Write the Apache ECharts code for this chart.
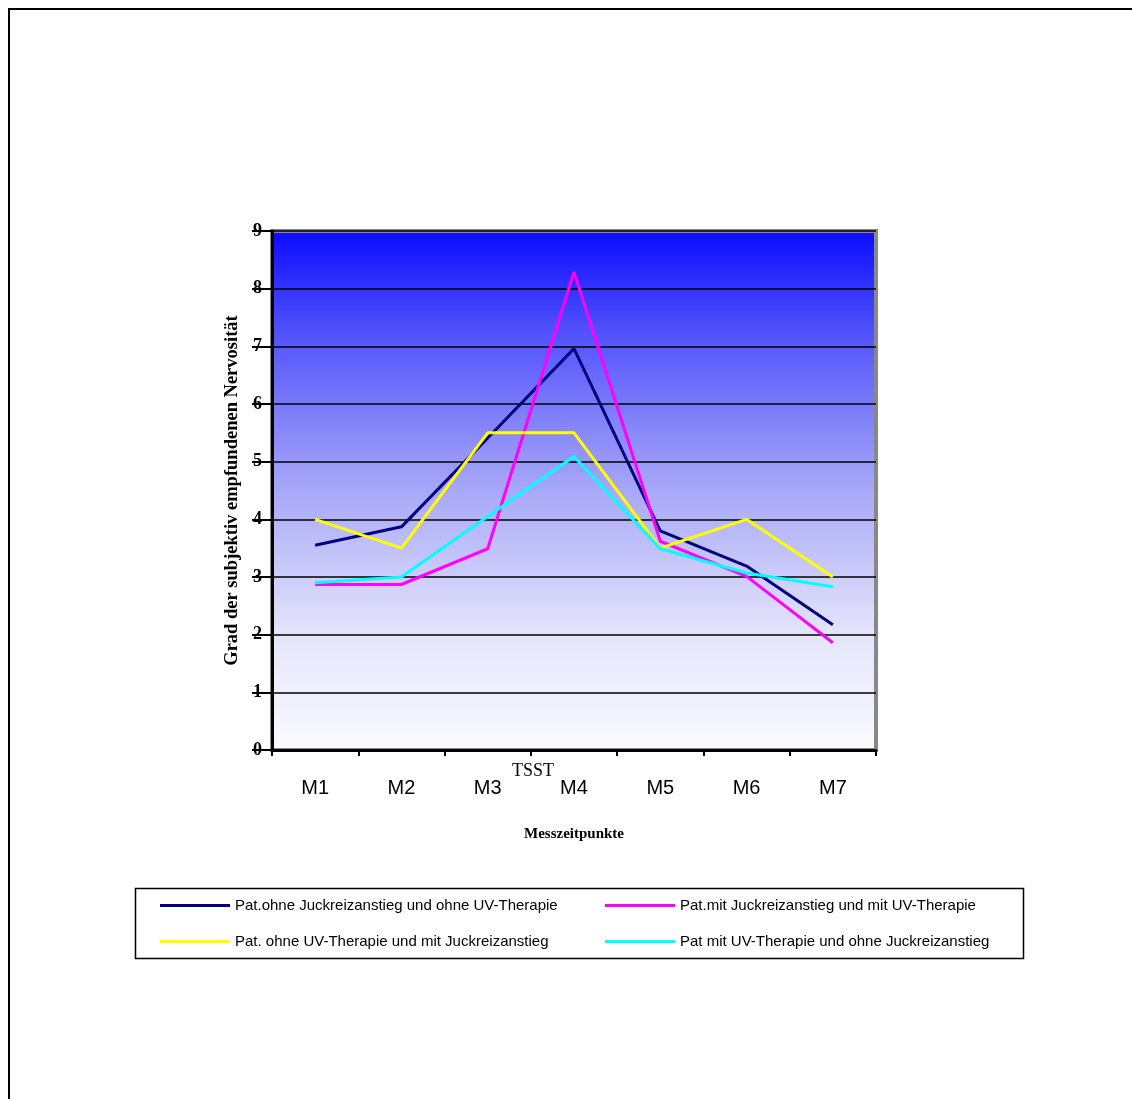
<!DOCTYPE html>
<html>
<head>
<meta charset="utf-8">
<script src="https://cdn.jsdelivr.net/npm/echarts@6/dist/echarts.min.js"></script>
<style>
  html, body { margin: 0; padding: 0; background: #fff; }
  #chart { width: 1132px; height: 1099px; }
</style>
</head>
<body>
<div id="chart"></div>
<script>
// Messzeitpunkte
const categories = ['M1', 'M2', 'M3', 'M4', 'M5', 'M6', 'M7']
const yTicks = [0, 1, 2, 3, 4, 5, 6, 7, 8, 9]

const ohneJuckOhneUV = [3.55, 3.87, 5.41, 6.96, 3.8, 3.19, 2.17]
const mitJuckMitUV = [2.87, 2.87, 3.49, 8.29, 3.62, 3.01, 1.86]
const ohneUVMitJuck = [4.0, 3.5, 5.5, 5.5, 3.5, 4.0, 3.0]
const mitUVOhneJuck = [2.9, 3.0, 4.05, 5.09, 3.49, 3.07, 2.83]

const names = [
  'Pat.ohne Juckreizanstieg und ohne UV-Therapie',
  'Pat.mit Juckreizanstieg und mit UV-Therapie',
  'Pat. ohne UV-Therapie und mit Juckreizanstieg',
  'Pat mit UV-Therapie und ohne Juckreizanstieg'
]
const colors = ['#000080', '#ff00ff', '#ffff00', '#00ffff']

const serif = '"Liberation Serif", "Times New Roman", serif'
const sans = '"Liberation Sans", Arial, sans-serif'

const chart = echarts.init(document.getElementById('chart'))

function line (name, data, color) {
  return {
    type: 'line',
    name: name,
    data: data,
    symbol: 'none',
    color: color,
    lineStyle: { width: 3, color: color },
    z: 5
  }
}

const legendText = { fontFamily: sans, fontSize: 15, color: '#000' }

chart.setOption({
  animation: false,
  backgroundColor: '#fff',
  grid: {
    left: 272,
    right: 256,
    top: 231,
    bottom: 349,
    show: true,
    borderColor: '#888',
    borderWidth: 4,
    backgroundColor: new echarts.graphic.LinearGradient(0, 0, 0, 1, [
      { offset: 0, color: '#0a0aff' },
      { offset: 0.2, color: '#5252fb' },
      { offset: 0.5, color: '#a8a8f8' },
      { offset: 0.78, color: '#e6e6fb' },
      { offset: 1, color: '#fafaff' }
    ])
  },
  legend: [
    {
      orient: 'vertical',
      left: 155,
      top: 893,
      itemWidth: 70,
      itemHeight: 3,
      itemGap: 21,
      icon: 'rect',
      textStyle: legendText,
      data: [names[0], names[2]]
    },
    {
      orient: 'vertical',
      left: 600,
      top: 893,
      itemWidth: 70,
      itemHeight: 3,
      itemGap: 21,
      icon: 'rect',
      textStyle: legendText,
      data: [names[1], names[3]]
    }
  ],
  xAxis: {
    type: 'category',
    data: categories,
    boundaryGap: true,
    name: 'Messzeitpunkte',
    nameLocation: 'middle',
    nameGap: 77,
    nameTextStyle: { fontFamily: serif, fontWeight: 'bold', fontSize: 15, color: '#000' },
    axisLine: { lineStyle: { color: '#000', width: 3 } },
    axisTick: { show: true, length: 6, lineStyle: { color: '#000', width: 2 } },
    axisLabel: { margin: 28, fontFamily: sans, fontSize: 20, color: '#000' },
    splitLine: { show: false }
  },
  yAxis: {
    type: 'value',
    min: 0,
    max: 9,
    interval: 1,
    name: 'Grad der subjektiv empfundenen Nervosität',
    nameLocation: 'middle',
    nameGap: 27,
    nameTextStyle: { fontFamily: serif, fontWeight: 'bold', fontSize: 18.5, color: '#000' },
    axisLine: { show: true, lineStyle: { color: '#000', width: 3 } },
    axisTick: { show: true, length: 20, lineStyle: { color: '#000', width: 2 } },
    axisLabel: {
      margin: 10,
      fontFamily: serif,
      fontWeight: 'bold',
      fontSize: 18,
      color: '#000',
      formatter: function (v) { return yTicks.indexOf(v) >= 0 ? String(v) : '' }
    },
    splitLine: { show: true, lineStyle: { color: '#000', width: 1.5 } }
  },
  series: [
    line(names[0], ohneJuckOhneUV, colors[0]),
    line(names[1], mitJuckMitUV, colors[1]),
    line(names[2], ohneUVMitJuck, colors[2]),
    line(names[3], mitUVOhneJuck, colors[3])
  ],
  graphic: [
    {
      type: 'rect',
      shape: { x: 9, y: 9, width: 1200, height: 1200 },
      style: { fill: 'none', stroke: '#000', lineWidth: 2 },
      silent: true
    },
    {
      type: 'rect',
      shape: { x: 135.5, y: 888.5, width: 888, height: 70 },
      style: { fill: 'none', stroke: '#000', lineWidth: 1.5 },
      silent: true
    },
    {
      type: 'text',
      left: 512,
      top: 762,
      style: { text: 'TSST', fontFamily: serif, fontSize: 18, fill: '#000' }
    }
  ]
})
</script>
</body>
</html>
